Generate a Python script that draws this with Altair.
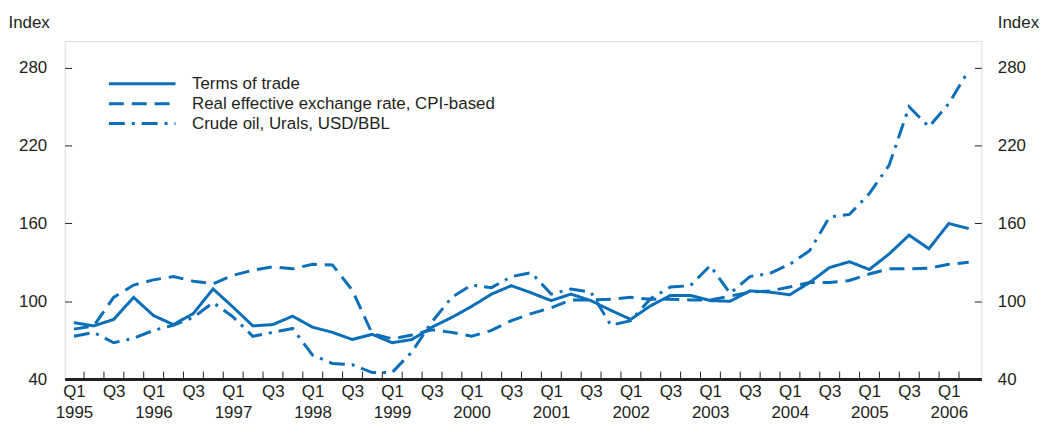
import altair as alt
import pandas as pd

quarters = list(range(46))  # 1995Q1 .. 2006Q2

terms_of_trade = [83.5, 81, 86, 103, 89, 82, 90.5, 109.5, 95.5, 81,
                  82, 88.5, 80, 76, 70.5, 74.5, 68, 70.5, 80, 87.5,
                  96, 105.5, 112, 106.5, 100.5, 105.5, 100.5, 93, 86, 96.5,
                  104.5, 104.5, 100.5, 100, 108, 107, 105, 114.5, 126, 130.5,
                  124.5, 136.5, 151, 140.5, 160, 156]
reer = [78.5, 81, 103, 112.5, 116.5, 119, 115.5, 113.5, 120, 124,
        126.5, 125, 128.5, 128, 108.5, 75, 71, 74, 78, 76,
        73, 77.5, 85, 90.5, 95, 101, 101, 101.5, 103, 101.5,
        101.5, 101, 101, 104, 107, 108, 111, 114.5, 114.5, 116,
        121, 125, 125, 125.5, 128.5, 130]
crude_oil = [73, 76, 68, 71.5, 77.5, 81.5, 87.5, 99, 88, 73,
             76, 79, 58.5, 52, 51, 45, 45, 61, 84, 103,
             112.5, 110.5, 119, 122, 105.5, 109.5, 107, 81.5, 85, 102,
             111, 112, 127.5, 106, 119, 121.5, 128.5, 139, 165, 167,
             183, 205, 250, 234.5, 252.5, 278]

series_names = ["Terms of trade",
                "Real effective exchange rate, CPI-based",
                "Crude oil, Urals, USD/BBL"]
label_values = list(range(0, 45, 2))
boundary_values = [q + 0.5 for q in range(45)]
y_ticks = [40, 100, 160, 220, 280]

rows = []
for name, vals in zip(series_names, [terms_of_trade, reer, crude_oil]):
    for q, v in zip(quarters, vals):
        rows.append({"i": q, "series": name, "value": v})
df = pd.DataFrame(rows)

BLUE = "#0a6fb8"
DARK = "#231f20"
FONT = "Liberation Sans, Arial, sans-serif"
FS = 17

xscale = alt.Scale(domain=[-0.465, 45.635], nice=False, zero=False)
yscale = alt.Scale(domain=[40, 300.7], nice=False, zero=False)

lines = alt.Chart(df).mark_line(strokeWidth=3, color=BLUE, strokeCap="butt").encode(
    x=alt.X("i:Q", scale=xscale, title=None,
            axis=alt.Axis(values=label_values, ticks=False, grid=False,
                          domain=True, domainColor=DARK, domainWidth=3,
                          labelExpr="datum.value % 4 == 0 ? ['Q1', '' + (1995 + floor(datum.value / 4))] : ['Q3', '']",
                          labelPadding=5, labelLineHeight=21, labelFlush=False,
                          labelOverlap=False, labelFont=FONT, labelFontSize=FS,
                          labelColor=DARK)),
    y=alt.Y("value:Q", scale=yscale,
            axis=alt.Axis(orient="left", values=y_ticks, tickSize=7, offset=-7,
                          tickColor=DARK, tickWidth=1, domain=False, grid=False,
                          labelPadding=18, labelFont=FONT, labelFontSize=FS,
                          labelColor=DARK, title="Index", titleAngle=0,
                          titleAlign="left", titleBaseline="alphabetic",
                          titleX=-64, titleY=-14, titleFont=FONT,
                          titleFontSize=FS, titleFontWeight="normal",
                          titleColor=DARK)),
    strokeDash=alt.StrokeDash(
        "series:N", sort=series_names,
        scale=alt.Scale(domain=series_names,
                        range=[[1, 0], [15, 8], [16, 7, 3, 7]]),
        legend=alt.Legend(title=None, orient="none", legendX=43, legendY=33,
                          symbolType="stroke", symbolSize=4489,
                          symbolStrokeWidth=3, symbolStrokeColor=BLUE,
                          clipHeight=20, labelLimit=0,
                          labelFont=FONT, labelFontSize=FS, labelColor=DARK,
                          labelOffset=15, rowPadding=0, padding=0)),
)

frame = alt.Chart(df).mark_line(strokeOpacity=0).encode(
    x=alt.X("i:Q", scale=xscale, title=None,
            axis=alt.Axis(orient="bottom", values=boundary_values, offset=-8,
                          tickSize=8, tickColor=DARK, tickWidth=1,
                          labels=False, domain=False, grid=False)),
    y=alt.Y("value:Q", scale=yscale,
            axis=alt.Axis(orient="right", values=y_ticks, tickSize=7, offset=-7,
                          tickColor=DARK, tickWidth=1, domain=False, grid=False,
                          labelPadding=16, labelFont=FONT, labelFontSize=FS,
                          labelColor=DARK, title="Index", titleAngle=0,
                          titleAlign="left", titleBaseline="alphabetic",
                          titleX=23, titleY=-14, titleFont=FONT,
                          titleFontSize=FS, titleFontWeight="normal",
                          titleColor=DARK)),
    detail="series:N",
)

chart = alt.layer(lines, frame).resolve_axis(
    x="independent", y="independent"
).properties(
    width=922, height=340,
    autosize=alt.AutoSizeParams(type="none"),
    padding={"left": 57, "top": 32, "right": 60, "bottom": 45},
).configure_view(
    stroke=DARK, strokeWidth=2
).configure(background="white")

chart.save("out.html", embed_options={"renderer": "svg", "actions": False})
